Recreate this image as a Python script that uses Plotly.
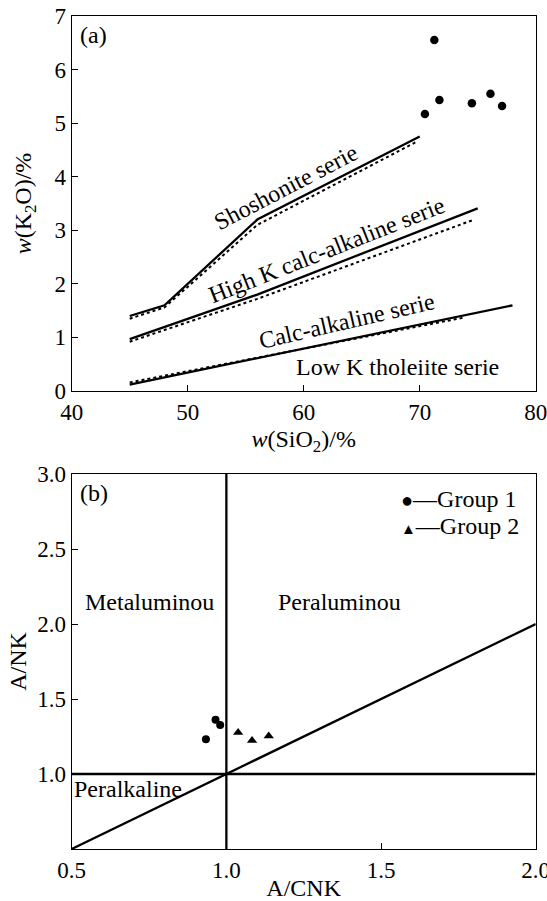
import plotly.graph_objects as go

# ---------------- Data: panel (a) K2O vs SiO2 ----------------
sio2 = [70.45, 71.26, 71.7, 74.5, 76.1, 77.1]
k2o = [5.17, 6.55, 5.43, 5.37, 5.55, 5.32]

sho_solid_x = [45, 48, 56, 70]
sho_solid_y = [1.40, 1.60, 3.20, 4.75]
sho_dot_x = [45, 48, 56, 69.7]
sho_dot_y = [1.35, 1.56, 3.10, 4.65]

highk_solid_x = [45, 56, 75]
highk_solid_y = [0.97, 1.80, 3.41]
highk_dot_x = [45, 56, 74.7]
highk_dot_y = [0.92, 1.72, 3.20]

calc_solid_x = [45, 78]
calc_solid_y = [0.12, 1.60]
calc_dot_x = [45, 73.8]
calc_dot_y = [0.16, 1.37]

a_xticks = [40, 50, 60, 70, 80]
a_yticks = [0, 1, 2, 3, 4, 5, 6, 7]

# ---------------- Data: panel (b) A/NK vs A/CNK ----------------
g1_acnk = [0.934, 0.965, 0.980]
g1_ank = [1.232, 1.361, 1.327]
g2_acnk = [1.038, 1.083, 1.137]
g2_ank = [1.276, 1.223, 1.254]

vline_x = [1.0, 1.0]
vline_y = [0.5, 3.0]
hline_x = [0.5, 2.0]
hline_y = [1.0, 1.0]
diag_x = [0.5, 2.0]
diag_y = [0.5, 2.0]

b_xticks = [0.5, 1.0, 1.5, 2.0]
b_xlabels = ["0.5", "1.0", "1.5", "2.0"]
b_yticks = [1.0, 1.5, 2.0, 2.5, 3.0]
b_ylabels = ["1.0", "1.5", "2.0", "2.5", "3.0"]

FONT = "Liberation Serif, Times New Roman, serif"
W, H = 547, 901


def px_x(p):
    return p / W


def px_y(p):
    return 1 - p / H


fig = go.Figure()

line_solid = dict(color="black", width=2.3)
line_dot = dict(color="black", width=2, dash="dot")

# panel (a) lines
for xs, ys, ln in [
    (sho_solid_x, sho_solid_y, line_solid), (sho_dot_x, sho_dot_y, line_dot),
    (highk_solid_x, highk_solid_y, line_solid), (highk_dot_x, highk_dot_y, line_dot),
    (calc_solid_x, calc_solid_y, line_solid), (calc_dot_x, calc_dot_y, line_dot),
]:
    fig.add_trace(go.Scatter(x=xs, y=ys, mode="lines", line=ln, showlegend=False,
                             xaxis="x", yaxis="y", hoverinfo="skip"))

fig.add_trace(go.Scatter(x=sio2, y=k2o, mode="markers",
                         marker=dict(symbol="circle", size=8.5, color="black"),
                         showlegend=False, xaxis="x", yaxis="y"))

# panel (b) lines
for xs, ys in [(vline_x, vline_y), (hline_x, hline_y), (diag_x, diag_y)]:
    fig.add_trace(go.Scatter(x=xs, y=ys, mode="lines", line=line_solid, showlegend=False,
                             xaxis="x2", yaxis="y2", hoverinfo="skip"))

fig.add_trace(go.Scatter(x=g1_acnk, y=g1_ank, mode="markers", name="Group 1",
                         marker=dict(symbol="circle", size=8, color="black"),
                         showlegend=False, xaxis="x2", yaxis="y2"))
fig.add_trace(go.Scatter(x=g2_acnk, y=g2_ank, mode="markers", name="Group 2",
                         marker=dict(symbol="triangle-up", size=9, color="black"),
                         showlegend=False, xaxis="x2", yaxis="y2"))

xl, xr = px_x(71.7), px_x(535.7)
a_top, a_bot = px_y(16), px_y(391)
b_top, b_bot = px_y(474), px_y(849)

axis_common = dict(showgrid=False, zeroline=False, showline=True, mirror=True,
                   linecolor="black", linewidth=1.3, ticks="inside", ticklen=6,
                   tickcolor="black", tickwidth=1.3, automargin=False,
                   ticklabeloverflow="allow",
                   tickfont=dict(family=FONT, size=23, color="black"))

fig.update_layout(
    width=W, height=H,
    margin=dict(l=0, r=0, t=0, b=0),
    paper_bgcolor="white", plot_bgcolor="white",
    font=dict(family=FONT, size=24, color="black"),
    showlegend=False,
    xaxis=dict(domain=[xl, xr], range=[40, 80], tickvals=a_xticks, anchor="y",
               title=dict(text="<i>w</i>(SiO<sub>2</sub>)/%", standoff=6,
                          font=dict(family=FONT, size=24)), **axis_common),
    yaxis=dict(domain=[a_bot, a_top], range=[0, 7], tickvals=a_yticks, anchor="x",
               title=dict(text="<i>w</i>(K<sub>2</sub>O)/%", standoff=16,
                          font=dict(family=FONT, size=24)), **axis_common),
    xaxis2=dict(domain=[xl, xr], range=[0.5, 2.0], tickvals=b_xticks, anchor="y2",
                ticktext=b_xlabels,
                title=dict(text="A/CNK", standoff=4, font=dict(family=FONT, size=24)),
                **axis_common),
    yaxis2=dict(domain=[b_bot, b_top], range=[0.5, 3.0], tickvals=b_yticks, anchor="x2",
                ticktext=b_ylabels,
                title=dict(text="A/NK", standoff=3, font=dict(family=FONT, size=24)),
                **axis_common),
)

ann = [
    dict(text="(a)", x=41.9, y=6.65, xref="x", yref="y"),
    dict(text="Shoshonite serie", x=58.5, y=3.8, xref="x", yref="y", textangle=-27.5),
    dict(text="High K calc-alkaline serie", x=62.0, y=2.63, xref="x", yref="y", textangle=-21.5),
    dict(text="Calc-alkaline serie", x=63.7, y=1.31, xref="x", yref="y", textangle=-13),
    dict(text="Low K tholeiite serie", x=68.1, y=0.45, xref="x", yref="y"),
    dict(text="(b)", x=0.573, y=2.873, xref="x2", yref="y2"),
    dict(text="Metaluminou", x=0.751, y=2.15, xref="x2", yref="y2"),
    dict(text="Peraluminou", x=1.365, y=2.15, xref="x2", yref="y2"),
    dict(text="Peralkaline", x=0.683, y=0.898, xref="x2", yref="y2"),
    # legend keys
    dict(text="<span style='font-size:20px'>\u25CF</span>\u2014Group 1",
         x=px_x(399), y=px_y(499), xref="paper", yref="paper", xanchor="left"),
    dict(text="<span style='font-size:15px'>\u25B2</span>\u2014Group 2",
         x=px_x(399), y=px_y(526), xref="paper", yref="paper", xanchor="left"),
]
for a in ann:
    a.update(showarrow=False, font=dict(family=FONT, size=24, color="black"))
fig.update_layout(annotations=ann)

fig.write_html(
    "out.html",
    config={"displayModeBar": False},
    post_script="document.body.style.margin='0';document.body.style.overflow='hidden';",
)
